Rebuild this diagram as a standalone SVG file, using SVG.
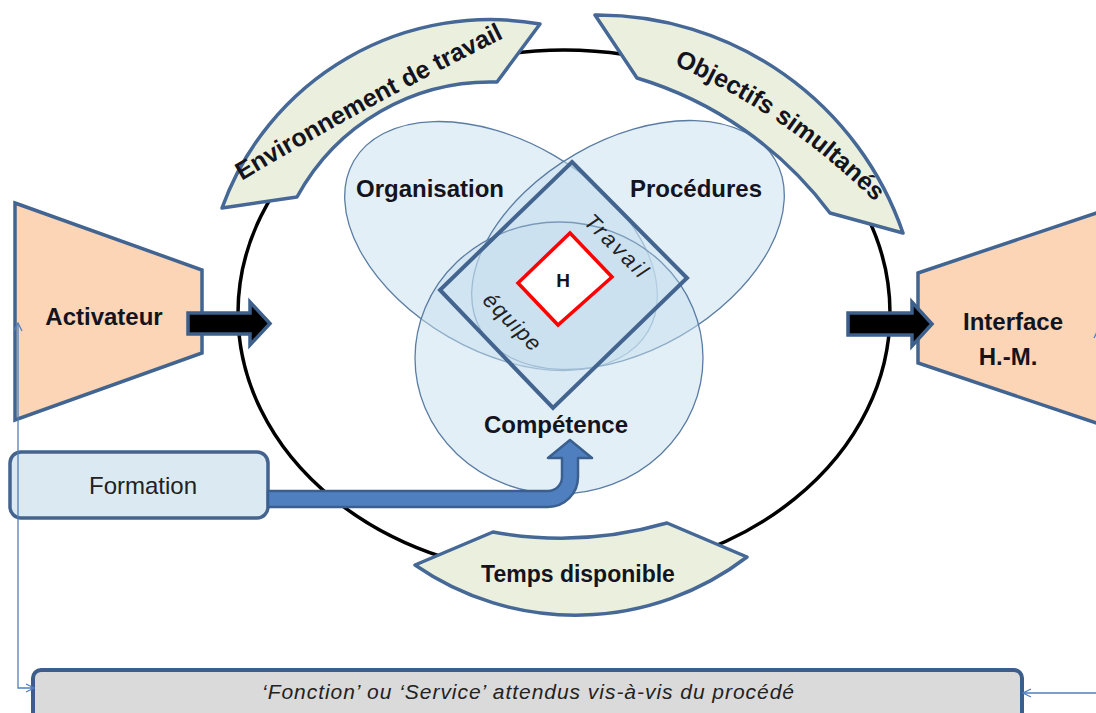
<svg xmlns="http://www.w3.org/2000/svg" width="1096" height="713" viewBox="0 0 1096 713">
<defs>
<style>
.lbl{font-family:"Liberation Sans",Arial,sans-serif;font-weight:bold;fill:#141420;text-anchor:middle}
.band{fill:#ebf0de;stroke:#456896;stroke-width:3.5;stroke-linejoin:round}
.venn{fill:#c6dfee;fill-opacity:0.5;stroke:#5a7ca3;stroke-width:1.3}
.trap{fill:#fbd5b5;stroke:#426490;stroke-width:3.5;stroke-linejoin:miter}
.blk{fill:#000;stroke:#3d5f8c;stroke-width:3.5;stroke-linejoin:miter}
.thin{fill:none;stroke:#4f7fbf;stroke-width:1.3}
.it{font-family:"Liberation Sans",Arial,sans-serif;font-style:italic;fill:#222;text-anchor:middle}
</style>
<marker id="open" viewBox="0 0 10 10" refX="9" refY="5" markerWidth="10" markerHeight="10" markerUnits="userSpaceOnUse" orient="auto-start-reverse">
<path d="M1,1 L9,5 L1,9" fill="none" stroke="#4f7fbf" stroke-width="1.3"/>
</marker>
<path id="pEnv" d="M 238,183 Q 368,105 508,36"/>
<path id="pObj" d="M 670,63 Q 786,113 878,205"/>
</defs>
<rect width="1096" height="713" fill="#fff"/>

<g id="cycle">
<ellipse cx="564" cy="313" rx="326" ry="263" fill="none" stroke="#000" stroke-width="3.5"/>
</g>

<g id="organisation">
<ellipse class="venn" cx="501" cy="246" rx="170" ry="105" transform="rotate(30 501 246)"/>
</g>
<g id="procedures">
<ellipse class="venn" cx="628" cy="245" rx="170" ry="105" transform="rotate(-30 628 245)"/>
</g>
<g id="competence">
<ellipse class="venn" cx="559" cy="358" rx="144" ry="136"/>
</g>

<g id="travail-equipe">
<path d="M 572,162 L 687,278 L 553,408 L 440,290 Z" fill="#c6dfee" fill-opacity="0.3" stroke="#43648e" stroke-width="4" stroke-linejoin="miter"/>
<text class="it" font-size="22" transform="translate(611,251) rotate(45)" textLength="80" lengthAdjust="spacing">Travail</text>
<text class="it" font-size="22" transform="translate(507,327) rotate(45)" textLength="72" lengthAdjust="spacing">équipe</text>
</g>

<g id="h">
<path d="M 570,233 L 612,277 L 558,325 L 518,283 Z" fill="#fff" stroke="#f00" stroke-width="3.5"/>
<text class="lbl" x="563" y="287" font-size="19">H</text>
</g>

<g id="venn-labels">
<text class="lbl" x="430" y="197" font-size="24">Organisation</text>
<text class="lbl" x="696" y="197" font-size="24">Procédures</text>
<text class="lbl" x="556" y="433" font-size="24">Compétence</text>
</g>

<g id="environnement">
<path class="band" d="M 222,208 A 285 285 0 0 1 540,24 L 497,82 A 220 220 0 0 0 297,197 Z"/>
<text class="lbl" font-size="25"><textPath href="#pEnv" startOffset="50%">Environnement de travail</textPath></text>
</g>

<g id="objectifs">
<path class="band" d="M 595,15 A 323 323 0 0 1 903,233 L 830,213 A 376 376 0 0 0 637,78 Z"/>
<text class="lbl" font-size="25"><textPath href="#pObj" startOffset="50%">Objectifs simultanés</textPath></text>
</g>

<g id="temps">
<path class="band" d="M 493,532 A 383 383 0 0 0 667,523 L 747,557 A 282 282 0 0 1 415,565 Z"/>
<text class="lbl" x="578" y="582" font-size="23">Temps disponible</text>
</g>

<g id="formation">
<rect x="10" y="452" width="258" height="66" rx="11" fill="#dbeaf2" stroke="#44648f" stroke-width="3.5"/>
<text x="143" y="494" font-family="'Liberation Sans',Arial,sans-serif" font-size="24" fill="#222" text-anchor="middle">Formation</text>
</g>

<g id="activateur">
<path class="trap" d="M 15,203 L 202,270 L 202,353 L 15,420 Z"/>
<text class="lbl" x="104" y="325" font-size="24">Activateur</text>
</g>

<g id="interface">
<path class="trap" d="M 918,273 L 1105,210 L 1105,426 L 918,363 Z"/>
<text class="lbl" x="1013" y="330" font-size="24">Interface</text>
<text class="lbl" x="1008" y="365" font-size="24">H.-M.</text>
</g>

<g id="fonction">
<rect x="33" y="670" width="989" height="62" rx="8" fill="#dadada" stroke="#3c5e8a" stroke-width="4"/>
<text class="it" x="528" y="699" font-size="21" textLength="532" lengthAdjust="spacing">‘Fonction’ ou ‘Service’ attendus vis-à-vis du procédé</text>
</g>

<g id="connectors">
<path d="M 268,507 L 548,507 A 30 30 0 0 0 578,477 L 578,458 L 592,458 L 570,440 L 548,458 L 562,458 L 562,477 A 14 14 0 0 1 548,491 L 268,491 Z" fill="#4f7fbf" stroke="#3a5f8f" stroke-width="2.5" stroke-linejoin="round"/>
<path class="blk" d="M 188,313 L 250,313 L 250,302 L 270,323.5 L 250,345 L 250,334 L 188,334 Z"/>
<path class="blk" d="M 848,313 L 912,313 L 912,302 L 932,324 L 912,346 L 912,335 L 848,335 Z"/>
<path class="thin" d="M 18,323 L 18,688 L 34,688" marker-start="url(#open)" marker-end="url(#open)"/>
<path class="thin" d="M 1098,330 L 1098,693 L 1023,693" marker-start="url(#open)" marker-end="url(#open)"/>
</g>
</svg>
